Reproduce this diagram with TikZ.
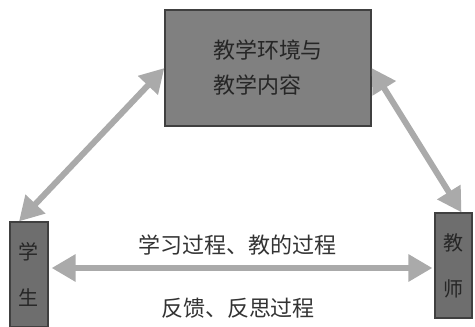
\documentclass[tikz,border=0pt]{standalone}
\usepackage{fontspec}
\newfontfamily\cjk{Noto Sans CJK SC}
\usetikzlibrary{arrows.meta}
\definecolor{envgray}{RGB}{128,128,128}
\definecolor{sidegray}{RGB}{110,110,110}
\definecolor{arrowgray}{RGB}{170,170,170}
\begin{document}
\begin{tikzpicture}[x=1pt, y=-1pt,
    box/.style={draw=black!75, line width=1.2pt, inner sep=0pt, text=black!85},
    sidebox/.style={box, fill=sidegray, minimum width=38pt, minimum height=105pt, align=center,
        font=\cjk\fontsize{20}{46}\selectfont},
    link/.style={draw=arrowgray, line width=6pt,
        {Triangle[width=26pt,length=24pt]}-{Triangle[width=26pt,length=24pt]}},
    lbl/.style={font=\cjk\fontsize{22}{22}\selectfont, text=black!80}]
\useasboundingbox (0,0) rectangle (475,327);
\node[box, fill=envgray, minimum width=206pt, minimum height=116pt, align=left,
    font=\cjk\fontsize{22}{35}\selectfont] (env) at (268,68) {教学环境与\\教学内容};
\node[sidebox] (stu) at (29,274.5) {学\\生};
\node[sidebox, minimum width=37pt] (tea) at (453.5,265.5) {教\\师};
\draw[link] (env.west) -- ([xshift=-10pt]stu.north);
\draw[link] (env.east) -- ([xshift=8pt]tea.north);
\draw[link] ([xshift=3pt, yshift=6.5pt]stu.east) -- ([xshift=-2pt, yshift=-2.5pt]tea.west);
\node[lbl] (teach) at (238,245) {学习过程、教的过程};
\node[lbl] (back) at (238,308) {反馈、反思过程};
\end{tikzpicture}
\end{document}
